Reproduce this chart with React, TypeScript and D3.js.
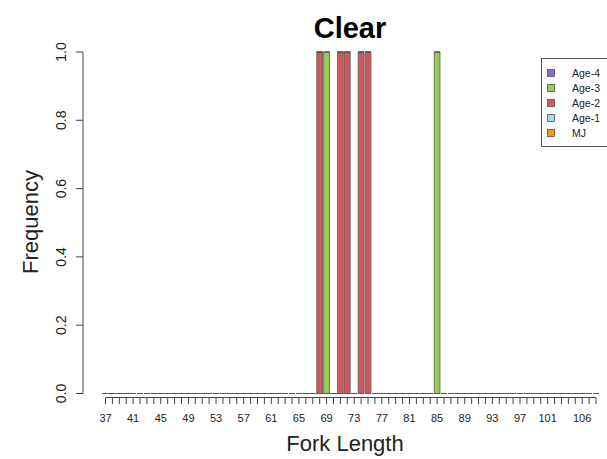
import React from "react";
import * as d3 from "d3";

const lengths: number[] = d3.range(37, 109);
const series = ["MJ", "Age-1", "Age-2", "Age-3", "Age-4"];
const colors: Record<string, string> = {
  "Age-4": "#8B6BD0",
  "Age-3": "#9BCB57",
  "Age-2": "#D1585A",
  "Age-1": "#A9D7EE",
  MJ: "#F39C12",
};
const age3Counts: Record<number, number> = { 69: 1, 85: 1 };
const age2Counts: Record<number, number> = { 68: 1, 71: 1, 72: 1, 74: 1, 75: 1 };
const xTickLabels: number[] = [37, 41, 45, 49, 53, 57, 61, 65, 69, 73, 77, 81, 85, 89, 93, 97, 101, 106];
const yTicks: number[] = [0, 0.2, 0.4, 0.6, 0.8, 1.0];
const legendOrder = ["Age-4", "Age-3", "Age-2", "Age-1", "MJ"];

function valueOf(s: string, len: number): number {
  if (s === "Age-3") return age3Counts[len] ?? 0;
  if (s === "Age-2") return age2Counts[len] ?? 0;
  return 0;
}

export default function App() {
  const W = 607, H = 459;
  const x = d3.scaleLinear().domain([37, 108]).range([105.5, 596]);
  const step = x(38) - x(37);
  const bw = step / 1.2;
  const y = d3.scaleLinear().domain([0, 1]).range([393.5, 52]);

  const table = lengths.map((l) => {
    const row: any = { len: l };
    series.forEach((s) => (row[s] = valueOf(s, l)));
    return row;
  });
  const stacked = d3.stack().keys(series)(table);

  const font = "Liberation Sans, Arial, sans-serif";

  return (
    <svg width={W} height={H} style={{ position: "absolute", left: 0, top: 0, background: "#fff" }} fontFamily={font}>
      <rect x={0} y={0} width={W} height={H} fill="#fff" />
      {stacked.map((layer) => (
        <g key={layer.key}>
          {layer.map((d: any, i: number) => {
            const cx = x(lengths[i]);
            const x0 = cx - bw / 2, x1 = cx + bw / 2;
            const y0 = y(d[0]), y1 = y(d[1]);
            return (
              <path
                key={i}
                d={`M${x0},${y0}H${x1}V${y1}H${x0}Z`}
                fill={colors[layer.key]}
                stroke="#555"
                strokeWidth={0.8}
              />
            );
          })}
        </g>
      ))}
      <line x1={83} x2={83} y1={y(0)} y2={y(1)} stroke="#444" />
      {yTicks.map((t) => (
        <g key={t}>
          <line x1={76} x2={83} y1={y(t)} y2={y(t)} stroke="#444" />
          <text
            transform={`translate(66,${y(t)}) rotate(-90)`}
            textAnchor="middle"
            fontSize={14}
            fill="#222"
          >
            {t.toFixed(1)}
          </text>
        </g>
      ))}
      <line x1={x(37)} x2={x(108)} y1={397.5} y2={397.5} stroke="#444" />
      {lengths.map((l) => (
        <line key={l} x1={x(l)} x2={x(l)} y1={397.5} y2={404} stroke="#444" />
      ))}
      {xTickLabels.map((l) => (
        <text key={l} x={x(l)} y={422} textAnchor="middle" fontSize={11} fill="#222">
          {l}
        </text>
      ))}
      <text x={350} y={38} textAnchor="middle" fontSize={29} fontWeight="bold" fill="#000">
        Clear
      </text>
      <text x={345} y={451} textAnchor="middle" fontSize={22} fill="#222">
        Fork Length
      </text>
      <text transform={`translate(38,222) rotate(-90)`} textAnchor="middle" fontSize={22} fill="#222">
        Frequency
      </text>
      <rect x={541.5} y={58.5} width={70} height={88} fill="#fff" stroke="#555" />
      {legendOrder.map((s, i) => (
        <g key={s}>
          <rect x={547.5} y={69.5 + i * 15} width={7} height={7} fill={colors[s]} stroke="#555" strokeWidth={0.8} />
          <text x={572} y={77 + i * 15} fontSize={10.5} fill="#222">
            {s}
          </text>
        </g>
      ))}
    </svg>
  );
}
